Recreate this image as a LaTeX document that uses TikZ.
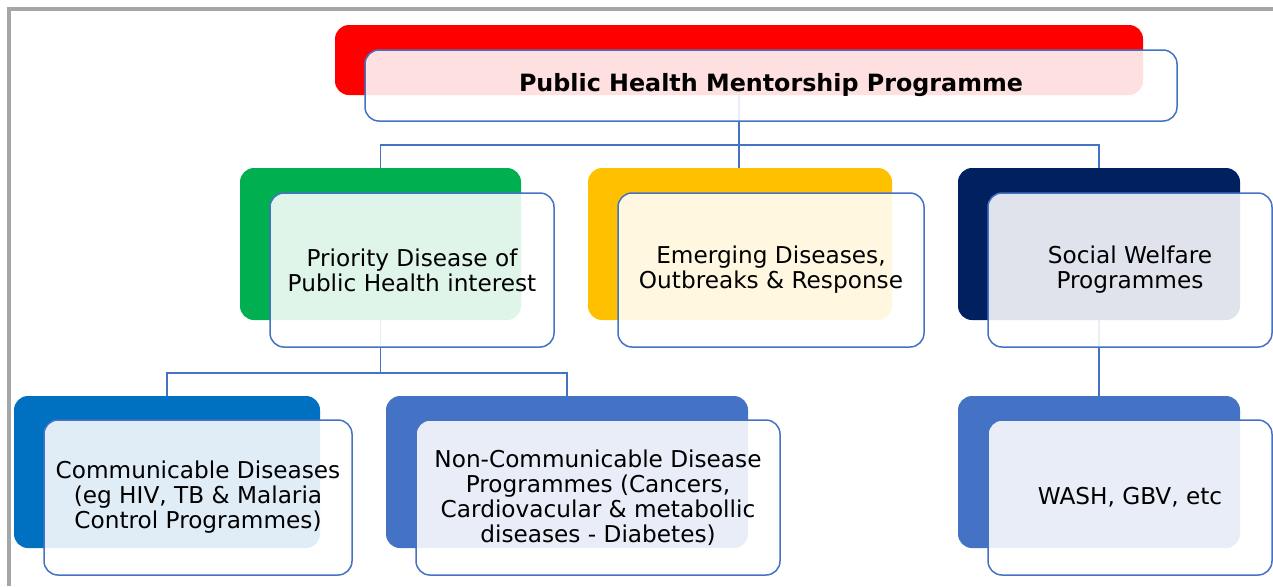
\documentclass[tikz,border=0pt]{standalone}
\usepackage{fontspec}
\setmainfont{DejaVu Sans}
\usetikzlibrary{backgrounds}
\definecolor{cred}{HTML}{FF0000}
\definecolor{cgreen}{HTML}{00B050}
\definecolor{cyellow}{HTML}{FFC000}
\definecolor{cnavy}{HTML}{002060}
\definecolor{cblue}{HTML}{0070C0}
\definecolor{cmid}{HTML}{4472C4}
\definecolor{cframe}{HTML}{A6A6A6}
\tikzset{
  backbox/.style={draw=none, fill=#1, rounded corners=7pt, inner sep=0pt},
  frontbox/.style={draw=cmid, line width=0.75pt, fill=white, fill opacity=0.88,
    text opacity=1, rounded corners=7pt, inner sep=0pt, align=center,
    font=\fontsize{11.6}{12.5}\selectfont},
  titlebox/.style={frontbox, font=\fontsize{11.9}{13}\selectfont\bfseries},
  conn/.style={draw=cmid, line width=0.8pt},
  framel/.style={draw=cframe, line width=1.6pt}
}
\begin{document}
\begin{tikzpicture}[x=0.5pt,y=-0.5pt]
\useasboundingbox (0,0) rectangle (1273,586);
% frame
\coordinate (f1) at (1273,9);
\coordinate (f2) at (9,9);
\coordinate (f3) at (9,586);
\draw[framel] (f1) -- (f2) -- (f3);
% top
\node[backbox=cred, minimum width=404pt, minimum height=35pt] (tb) at (739,60) {};
\node[titlebox, minimum width=406pt, minimum height=35.5pt] (tf) at (771,85.5) {Public Health Mentorship Programme};
% level 2
\node[backbox=cgreen, minimum width=140.5pt, minimum height=76pt] (gb) at (380.5,244) {};
\node[frontbox, minimum width=142pt, minimum height=77pt] (gf) at (412,270) {Priority Disease of\\Public Health interest};
\node[backbox=cyellow, minimum width=152pt, minimum height=76pt] (yb) at (740,244) {};
\node[frontbox, minimum width=153pt, minimum height=77pt] (yf) at (771,270) {Emerging Diseases,\\Outbreaks \& Response};
\node[backbox=cnavy, minimum width=141pt, minimum height=76pt] (nb) at (1099,244) {};
\node[frontbox, minimum width=142pt, minimum height=77pt] (nf) at (1130,270) {Social Welfare\\Programmes};
% level 3
\node[backbox=cblue, minimum width=153pt, minimum height=76pt] (cb) at (167,472) {};
\node[frontbox, minimum width=154pt, minimum height=77.5pt] (cf) at (198,497.5) {Communicable Diseases\\(eg HIV, TB \& Malaria\\Control Programmes)};
\node[backbox=cmid, minimum width=181pt, minimum height=76pt] (ncb) at (567,472) {};
\node[frontbox, minimum width=182pt, minimum height=77.5pt] (ncf) at (598,497.5) {Non-Communicable Disease\\Programmes (Cancers,\\Cardiovacular \& metabollic\\diseases - Diabetes)};
\node[backbox=cmid, minimum width=141pt, minimum height=76pt] (wb) at (1099,472) {};
\node[frontbox, minimum width=142pt, minimum height=77.5pt] (wf) at (1130,497.5) {WASH, GBV, etc};
% connectors
\coordinate (bus1) at (0,145);
\coordinate (bus2) at (0,373);
\begin{pgfonlayer}{background}
\draw[conn] (tb.center) -- (tb.center |- bus1) -| (gb.north);
\draw[conn] (tb.center |- bus1) -| (nb.north);
\draw[conn] (tb.center) -- (tb.center |- yb.north);
\draw[conn] (gb.center) -- (gb.center |- bus2) -| (cb.north);
\draw[conn] (gb.center |- bus2) -| (ncb.north);
\draw[conn] (nb.center) -- (wb.north);
\end{pgfonlayer}
\end{tikzpicture}
\end{document}
